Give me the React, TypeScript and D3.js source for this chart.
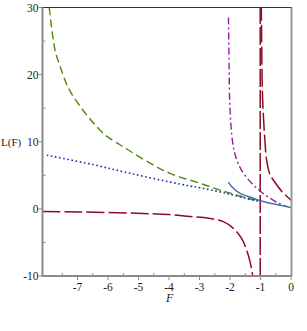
import { useEffect, useRef } from "react";
import * as d3 from "d3";

type Pt = [number, number];

// values (F, L(F))
const greenCurve: Pt[] = [
  [-7.93, 30], [-7.74, 23.7], [-7.57, 21.2], [-7.3, 18.0], [-6.92, 15.3], [-6.48, 12.8],
  [-6.04, 10.8], [-5.61, 9.55], [-5.44, 9.06], [-4.62, 6.8], [-3.97, 5.3], [-2.98, 3.8],
  [-2.33, 2.8], [-2.11, 2.5], [-1.6, 1.8], [-1.25, 1.4], [-1.0, 1.2],
];
const blueDotted: Pt[] = [
  [-8.01, 8.0], [-6.5, 6.6], [-5.28, 5.3], [-3.97, 4.0], [-3.31, 3.4], [-2.98, 3.15],
  [-2.11, 2.3], [-1.24, 1.3], [-1.0, 1.1],
];
const redLeft: Pt[] = [
  [-8.15, -0.4], [-7, -0.45], [-5.06, -0.65], [-4, -0.85], [-3.31, -1.15], [-2.87, -1.3],
  [-2.22, -1.9], [-1.89, -2.9], [-1.62, -4.4], [-1.4, -6.9], [-1.26, -9.85], [-1.2, -13],
];
const redRight: Pt[] = [
  [-0.985, 34], [-0.965, 26], [-0.93, 16.3], [-0.85, 9.8], [-0.8, 7.3], [-0.69, 5.1],
  [-0.58, 4.3], [-0.3, 2.6], [0, 1.3],
];
const redPole = -1.01;
const purpleCurve: Pt[] = [
  [-2.05, 28.5], [-2.03, 21.2], [-2.0, 14.8], [-1.91, 9.8], [-1.78, 7.3], [-1.56, 5.3],
  [-1.24, 3.6], [-0.91, 2.3], [-0.47, 1.0], [-0.14, 0.35],
];
const solidCurve: Pt[] = [
  [-2.05, 4.0], [-1.94, 3.3], [-1.67, 2.3], [-1.24, 1.6], [-1.0, 1.2], [-0.58, 0.75], [0, 0.2],
];

const xTicks = [-7, -6, -5, -4, -3, -2, -1, 0];
const xMinor = [-7.5, -6.5, -5.5, -4.5, -3.5, -2.5, -1.5, -0.5];
const yTicks = [-10, 0, 10, 20, 30];
const yMinor = [-5, 5, 15, 25];

const W = 307;
const H = 331;

export default function App() {
  const svgRef = useRef<SVGSVGElement>(null);

  useEffect(() => {
    if (!svgRef.current) return;
    const svg = d3.select(svgRef.current);
    svg.selectAll("*").remove();

    const x = d3.scaleLinear().domain([-8.15, 0]).range([42.5, 291]);
    const y = d3.scaleLinear().domain([-10, 30]).range([276, 7.5]);
    const font = "'Liberation Serif', 'DejaVu Serif', serif";

    svg.append("clipPath").attr("id", "plot-clip")
      .append("rect")
      .attr("x", x(-8.15)).attr("y", y(30))
      .attr("width", x(0) - x(-8.15)).attr("height", y(-10) - y(30));

    const line = d3.line<Pt>()
      .x((d) => x(d[0]))
      .y((d) => y(d[1]))
      .curve(d3.curveCatmullRom.alpha(0.5));

    const g = svg.append("g").attr("clip-path", "url(#plot-clip)");

    const draw = (data: Pt[], color: string, dash: string | null, width = 1.4) => {
      g.append("path")
        .attr("d", line(data))
        .attr("fill", "none")
        .attr("stroke", color)
        .attr("stroke-width", width)
        .attr("stroke-dasharray", dash);
    };

    draw(greenCurve, "#52860c", "8,4");
    draw(blueDotted, "#1c2fb0", "1.6,2.6", 1.6);
    draw(redLeft, "#8a0c22", "18,4", 1.5);
    draw(redRight, "#8a0c22", "18,4", 1.5);
    g.append("line")
      .attr("x1", x(redPole)).attr("x2", x(redPole))
      .attr("y1", y(-10)).attr("y2", y(30))
      .attr("stroke", "#8a0c22")
      .attr("stroke-width", 1.5)
      .attr("stroke-dasharray", "18,3");
    draw(purpleCurve, "#951c9a", "7,3,2,3");
    draw(solidCurve, "#4b6ea8", null, 1.5);

    // frame
    const x0 = x(-8.15), x1 = x(0), yT = y(30), yB = y(-10);
    svg.append("line").attr("x1", x0).attr("x2", x1 + 1).attr("y1", yT).attr("y2", yT)
      .attr("stroke", "#333").attr("stroke-width", 1);
    svg.append("line").attr("x1", x1 + 0.5).attr("x2", x1 + 0.5).attr("y1", yT).attr("y2", yB)
      .attr("stroke", "#999").attr("stroke-width", 2);
    svg.append("line").attr("x1", x0).attr("x2", x0).attr("y1", yT).attr("y2", yB + 1)
      .attr("stroke", "#8a8a8a").attr("stroke-width", 2);
    svg.append("line").attr("x1", x0 - 1).attr("x2", x1 + 1).attr("y1", yB).attr("y2", yB)
      .attr("stroke", "#8a8a8a").attr("stroke-width", 2);

    // y ticks
    svg.selectAll(".ytick").data(yTicks).join("line")
      .attr("x1", x0 - 4).attr("x2", x0)
      .attr("y1", (d) => y(d)).attr("y2", (d) => y(d))
      .attr("stroke", "#8a8a8a").attr("stroke-width", 1);
    svg.selectAll(".yminor").data(yMinor).join("line")
      .attr("x1", x0).attr("x2", x0 + 3)
      .attr("y1", (d) => y(d)).attr("y2", (d) => y(d))
      .attr("stroke", "#8a8a8a").attr("stroke-width", 1);
    svg.selectAll(".ylab").data(yTicks).join("text")
      .attr("x", x0 - 4).attr("y", (d) => y(d) + 4)
      .attr("text-anchor", "end")
      .attr("font-family", font).attr("font-size", 11.5).attr("fill", "#222")
      .text((d) => String(d));

    // x ticks
    svg.selectAll(".xtick").data(xTicks).join("line")
      .attr("x1", (d) => x(d)).attr("x2", (d) => x(d))
      .attr("y1", yB).attr("y2", yB + 4)
      .attr("stroke", "#8a8a8a").attr("stroke-width", 1);
    svg.selectAll(".xminor").data(xMinor).join("line")
      .attr("x1", (d) => x(d)).attr("x2", (d) => x(d))
      .attr("y1", yB - 3).attr("y2", yB)
      .attr("stroke", "#8a8a8a").attr("stroke-width", 1);
    svg.selectAll(".xlab").data(xTicks).join("text")
      .attr("x", (d) => x(d)).attr("y", yB + 14.5)
      .attr("text-anchor", "middle")
      .attr("font-family", font).attr("font-size", 11.5).attr("fill", "#222")
      .text((d) => String(d));

    // axis titles
    svg.append("text")
      .attr("x", (x0 + x1) / 2 + 3).attr("y", yB + 26)
      .attr("text-anchor", "middle")
      .attr("font-family", font).attr("font-style", "italic").attr("font-size", 12)
      .attr("fill", "#222")
      .text("F");
    svg.append("text")
      .attr("x", 1).attr("y", y(10) + 4)
      .attr("text-anchor", "start")
      .attr("font-family", font).attr("font-size", 11).attr("fill", "#222")
      .text("L(F)");
  }, []);

  return (
    <svg
      ref={svgRef}
      width={W}
      height={H}
      style={{ position: "absolute", left: 0, top: 0, background: "#fff" }}
    />
  );
}
